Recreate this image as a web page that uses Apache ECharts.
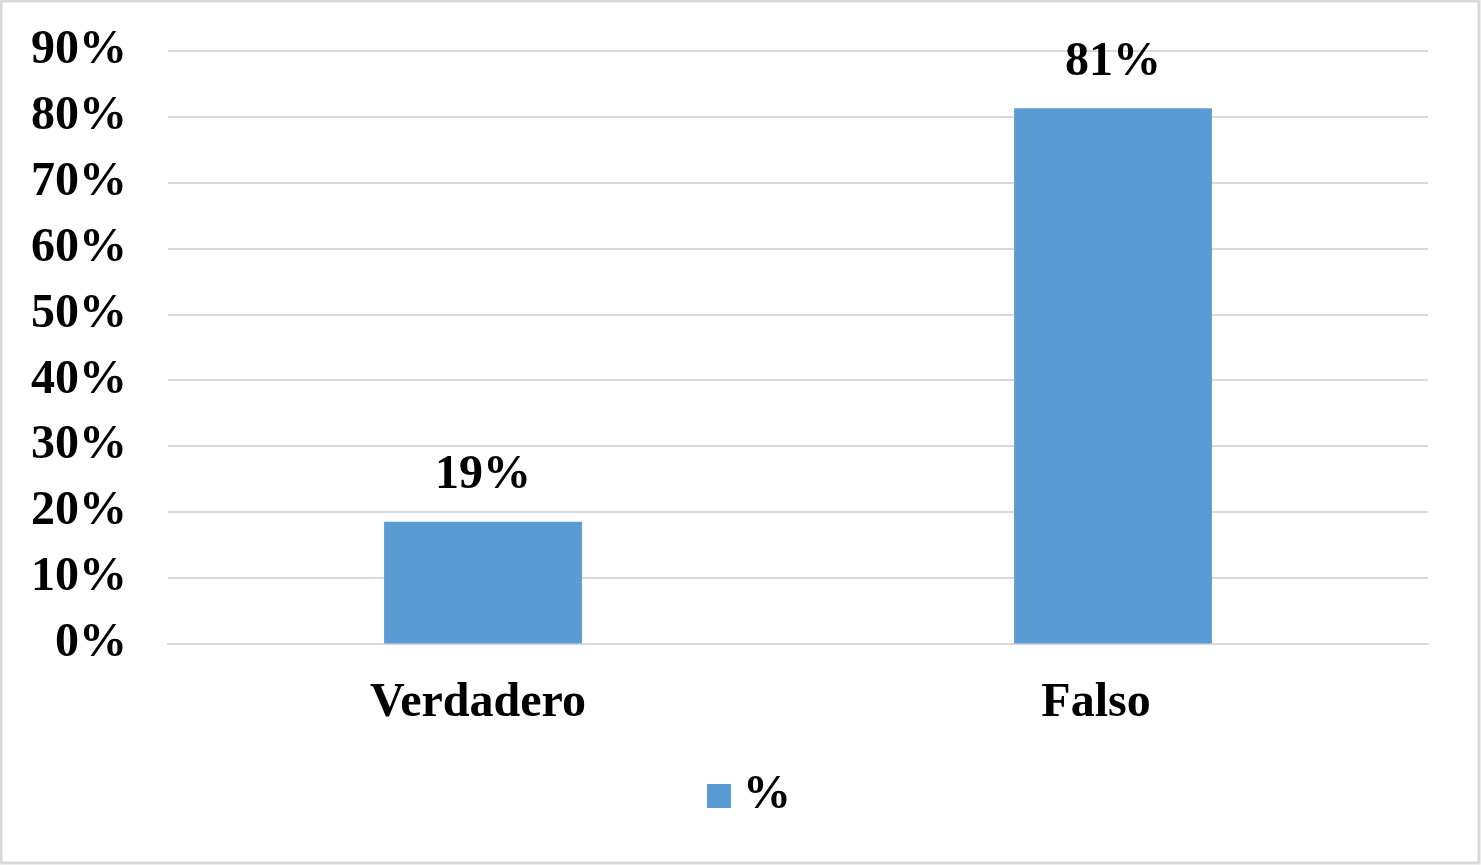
<!DOCTYPE html>
<html>
<head>
<meta charset="utf-8">
<script src="https://cdn.jsdelivr.net/npm/echarts@6/dist/echarts.min.js"></script>
<style>
html,body{margin:0;padding:0;background:#fff;}
#chart{width:1481px;height:865px;}
</style>
</head>
<body>
<div id="chart"></div>
<script>
const categories = ['Verdadero', 'Falso'];
const seriesName = '%';
const values = [0.185, 0.813];
const yTicks = [0, 0.1, 0.2, 0.3, 0.4, 0.5, 0.6, 0.7, 0.8, 0.9];

// small leftward nudges of the category labels, as in the reference
const labelNudge = [10, 34];

const FONT = '"Liberation Serif", "Times New Roman", serif';
const chart = echarts.init(document.getElementById('chart'), null, {renderer: 'canvas'});
chart.setOption({
  animation: false,
  backgroundColor: '#ffffff',
  graphic: [{
    type: 'rect',
    shape: {x: 1, y: 1, width: 1478, height: 862},
    style: {fill: 'none', stroke: '#d9d9d9', lineWidth: 3},
    silent: true
  }],
  grid: {left: 168, right: 53, top: 51, bottom: 221.5, containLabel: false},
  legend: {
    data: [seriesName],
    bottom: 40,
    left: 702,
    itemWidth: 24,
    itemHeight: 24,
    itemGap: 14,
    icon: 'rect',
    textStyle: {fontFamily: FONT, fontWeight: 'bold', fontSize: 48, color: '#000', padding: [0, 0, 0, 7]}
  },
  xAxis: {
    type: 'category',
    data: categories.map((c, i) => ({value: c, textStyle: {padding: [0, labelNudge[i], 0, 0]}})),
    axisLine: {show: true, lineStyle: {color: '#d9d9d9', width: 2}},
    axisTick: {show: false},
    axisLabel: {fontFamily: FONT, fontWeight: 'bold', fontSize: 48, color: '#000', margin: 36}
  },
  yAxis: {
    type: 'value',
    min: 0,
    max: yTicks[yTicks.length - 1],
    interval: 0.1,
    axisLine: {show: false},
    axisTick: {show: false},
    splitLine: {lineStyle: {color: '#d9d9d9', width: 2}},
    axisLabel: {
      fontFamily: FONT, fontWeight: 'bold', fontSize: 48, color: '#000', margin: 41,
      formatter: v => Math.round(v * 100) + '%'
    }
  },
  series: [{
    name: seriesName,
    type: 'bar',
    data: values,
    barWidth: '31.4%',
    itemStyle: {color: '#5b9bd5'},
    label: {
      show: true,
      position: 'top',
      distance: 22,
      fontFamily: FONT, fontWeight: 'bold', fontSize: 48, color: '#000',
      formatter: p => Math.round(p.value * 100) + '%'
    }
  }]
});
</script>
</body>
</html>
